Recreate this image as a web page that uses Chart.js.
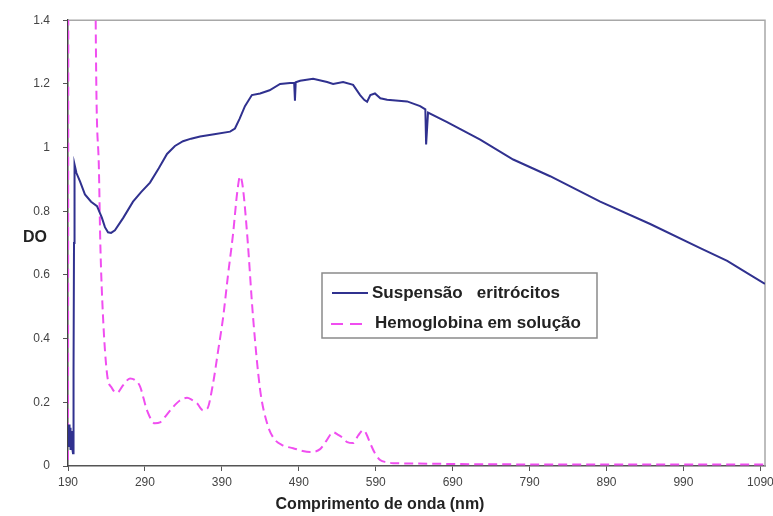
<!DOCTYPE html>
<html>
<head>
<meta charset="utf-8">
<title>Espectro de absorção</title>
<script src="https://cdn.jsdelivr.net/npm/chart.js@4.4.1/dist/chart.umd.min.js"></script>
<style>
  body { margin: 0; background: #fff; }
  canvas { display: block; }
</style>
</head>
<body>
<canvas id="espectro" width="773" height="516"></canvas>
<script>
/* Data: wavelength (nm) and optical density (DO) */
const suspensaoNm = [190, 190.7, 191.3, 192, 192.6, 193.3, 193.9, 194.6, 195.2, 195.9, 196.5, 197.2, 197.8, 198.5,
    201, 205.6, 212, 220, 227.7, 234, 238, 242, 246, 251, 262, 274.5, 285, 296.6, 308, 318.7, 329, 339.5, 350,
    361.7, 380, 400.7, 407, 413, 420, 429, 439.7, 452, 465.7, 478.7, 484, 485, 486, 491.7, 508.6, 526.8, 534.6,
    547.6, 560.6, 569.7, 575, 578.8, 583, 589, 596, 604.8, 630.8, 647.7, 654.5, 655.5, 656.5, 658, 682.8, 725.8,
    768.7, 816.7, 881.8, 946.8, 1011.8, 1046.9, 1072.9, 1096];
const suspensaoDO = [0.12, 0.06, 0.13, 0.07, 0.12, 0.05, 0.11, 0.06, 0.1, 0.05, 0.04, 0.3, 0.7, 0.947,
    0.92, 0.894, 0.853, 0.83, 0.816, 0.78, 0.75, 0.734, 0.732, 0.74, 0.78, 0.83, 0.86, 0.89, 0.935, 0.98, 1.005, 1.02, 1.028,
    1.035, 1.042, 1.05, 1.06, 1.09, 1.13, 1.165, 1.17, 1.18, 1.2, 1.203, 1.203, 1.147, 1.205, 1.21, 1.216, 1.206, 1.2,
    1.206, 1.197, 1.165, 1.15, 1.144, 1.165, 1.17, 1.155, 1.15, 1.145, 1.13, 1.12, 1.01, 1.01, 1.11, 1.08, 1.025,
    0.9625, 0.91, 0.83, 0.76, 0.684, 0.644, 0.606, 0.572];

const hemoglobinaNm = [190, 191, 224, 226, 230, 232, 235.5, 240.7, 247, 253.7, 262, 270.6, 277, 283.6, 292.7, 303,
    309.6, 318, 326.5, 335, 344.7, 351, 357.7, 365.5, 371, 378.6, 385, 391.6, 398, 404.6, 410, 413.7, 417, 422.8,
    430.6, 439.7, 448.8, 456.6, 469, 482.6, 495, 504.7, 517.7, 526, 534.6, 541, 547.6, 553, 560.6, 567, 573.6, 578,
    582.7, 589, 595.7, 604, 612.6, 634.7, 700, 800, 900, 1000, 1096];
const hemoglobinaDO = [0.02, 3, 3, 1.4, 0.95, 0.7, 0.47, 0.29, 0.245, 0.23, 0.255, 0.275, 0.27, 0.25, 0.175, 0.134,
    0.137, 0.16, 0.185, 0.205, 0.214, 0.208, 0.197, 0.175, 0.18, 0.26, 0.36, 0.466, 0.6, 0.73, 0.86, 0.91, 0.88, 0.73,
    0.466, 0.24, 0.134, 0.09, 0.065, 0.056, 0.047, 0.044, 0.053, 0.08, 0.106, 0.098, 0.0875, 0.075, 0.072, 0.095, 0.1125, 0.1,
    0.072, 0.04, 0.019, 0.012, 0.009, 0.008, 0.006, 0.005, 0.005, 0.005, 0.005];

const xTicks = [190, 290, 390, 490, 590, 690, 790, 890, 990, 1090];
const yTicks = [0, 0.2, 0.4, 0.6, 0.8, 1, 1.2, 1.4];
const seriesLabels = ['Suspensão   eritrócitos', 'Hemoglobina em solução'];
const xTitle = 'Comprimento de onda (nm)';
const yTitle = 'DO';

const azul = '#30318f';
const rosa = '#f04ef0';
const fonte = '"Liberation Sans", Arial, sans-serif';

const toPoints = (xs, ys) => xs.map((x, i) => ({ x: x, y: ys[i] }));

// frame, axis titles and the boxed legend
const extras = {
    id: 'extras',
    beforeDatasetsDraw(chart) {
        const { ctx, chartArea: a } = chart;
        ctx.save();
        ctx.strokeStyle = '#a8a8a8';
        ctx.lineWidth = 1.5;
        ctx.beginPath();
        ctx.moveTo(a.left, a.top);
        ctx.lineTo(a.right, a.top);
        ctx.lineTo(a.right, a.bottom);
        ctx.stroke();
        ctx.restore();
    },
    afterDraw(chart) {
        const ctx = chart.ctx;
        ctx.save();
        ctx.fillStyle = '#222';
        ctx.font = 'bold 16px ' + fonte;
        ctx.textAlign = 'center';
        ctx.textBaseline = 'middle';
        ctx.fillText(xTitle, 380, 505);
        ctx.fillText(yTitle, 35, 238);

        // legend box
        ctx.fillStyle = '#fff';
        ctx.fillRect(322, 273, 275, 65);
        ctx.strokeStyle = '#8a8a8a';
        ctx.lineWidth = 1.5;
        ctx.strokeRect(322, 273, 275, 65);

        ctx.lineWidth = 2;
        ctx.strokeStyle = azul;
        ctx.beginPath();
        ctx.moveTo(332, 293);
        ctx.lineTo(368, 293);
        ctx.stroke();

        ctx.strokeStyle = rosa;
        ctx.setLineDash([12, 7]);
        ctx.beginPath();
        ctx.moveTo(331, 324);
        ctx.lineTo(368, 324);
        ctx.stroke();
        ctx.setLineDash([]);

        ctx.fillStyle = '#222';
        ctx.font = 'bold 17px ' + fonte;
        ctx.textAlign = 'left';
        ctx.fillText(chart.data.datasets[0].label, 372, 293);
        ctx.fillText(chart.data.datasets[1].label, 375, 323);
        ctx.restore();
    }
};

new Chart(document.getElementById('espectro'), {
    type: 'line',
    data: {
        datasets: [{
            label: seriesLabels[0],
            data: toPoints(suspensaoNm, suspensaoDO),
            borderColor: azul,
            borderWidth: 2,
            pointRadius: 0,
            tension: 0,
        }, {
            label: seriesLabels[1],
            data: toPoints(hemoglobinaNm, hemoglobinaDO),
            borderColor: rosa,
            borderWidth: 2,
            borderDash: [9, 5],
            pointRadius: 0,
            cubicInterpolationMode: 'monotone',
        }]
    },
    options: {
        responsive: false,
        animation: false,
        layout: { padding: { top: 18, right: 8, left: 0, bottom: 0 } },
        scales: {
            x: {
                type: 'linear',
                min: 190,
                max: 1096,
                afterBuildTicks: (axis) => {
                    axis.ticks = xTicks.map(v => ({ value: v }));
                },
                afterFit: (axis) => {
                    axis.height = 50;
                    axis.paddingLeft = 0;
                    axis.paddingRight = 0;
                },
                grid: { drawOnChartArea: false, tickLength: 5, color: '#555' },
                border: { color: '#555', width: 1.5 },
                ticks: {
                    color: '#444',
                    font: { family: fonte, size: 12 },
                    padding: 4,
                    maxRotation: 0,
                    autoSkip: false,
                    callback: (v) => String(v)
                }
            },
            y: {
                min: 0,
                max: 1.4,
                afterBuildTicks: (axis) => {
                    axis.ticks = yTicks.map(v => ({ value: v }));
                },
                afterFit: (axis) => {
                    axis.width = 68;
                },
                grid: { drawOnChartArea: false, tickLength: 5, color: '#555' },
                border: { color: '#444', width: 1.5 },
                ticks: {
                    color: '#444',
                    font: { family: fonte, size: 12 },
                    padding: 13,
                    callback: (v) => String(Math.round(v * 10) / 10)
                }
            }
        },
        plugins: {
            legend: { display: false },
            tooltip: { enabled: false }
        }
    },
    plugins: [extras]
});
</script>
</body>
</html>
